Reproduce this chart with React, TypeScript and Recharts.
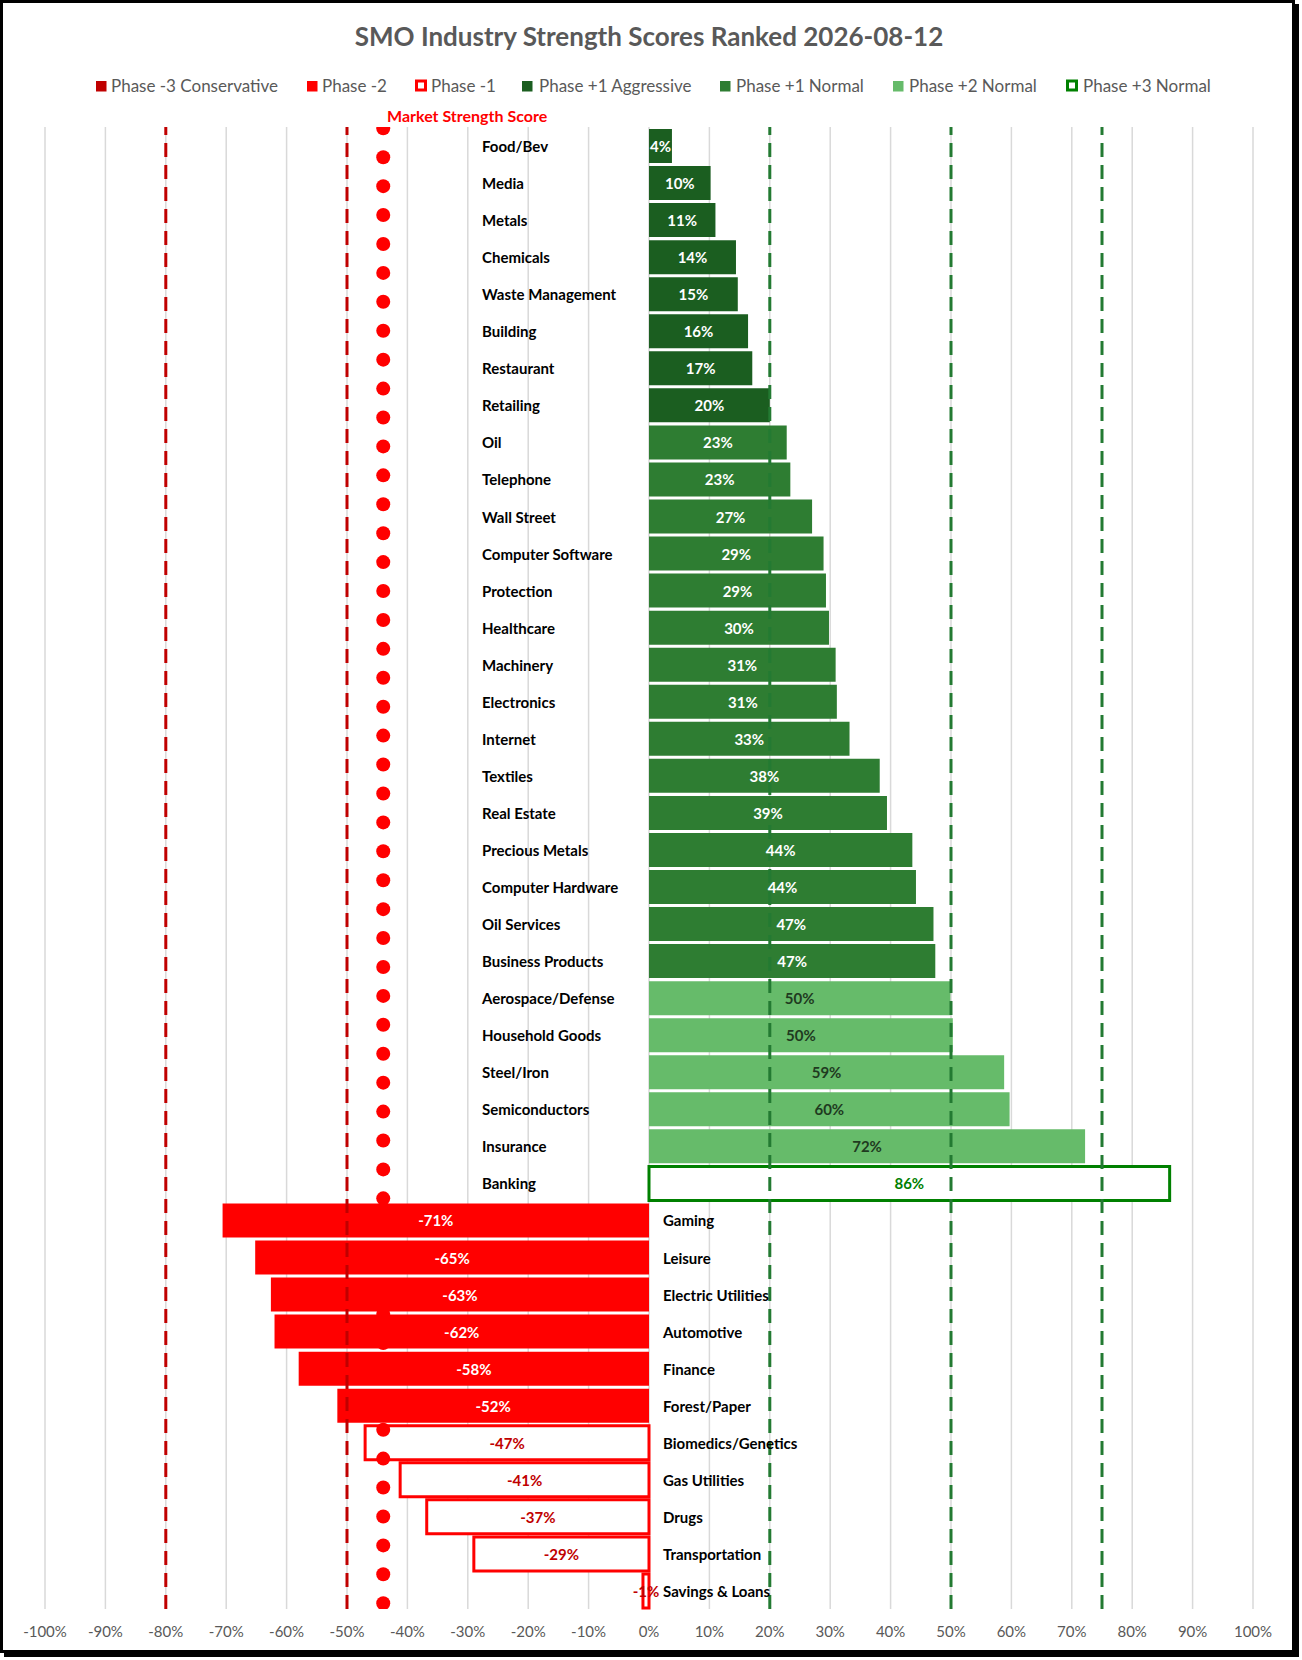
import React from 'react';
import {
  ComposedChart,
  ScatterChart,
  Scatter,
  Bar,
  Cell,
  XAxis,
  YAxis,
  CartesianGrid,
  ReferenceLine,
  LabelList,
} from 'recharts';

// ---------------- DATA ----------------
const chartTitle = 'SMO Industry Strength Scores Ranked 2026-08-12';

const categories = [
  'Food/Bev', 'Media', 'Metals', 'Chemicals', 'Waste Management', 'Building', 'Restaurant', 'Retailing',
  'Oil', 'Telephone', 'Wall Street', 'Computer Software', 'Protection', 'Healthcare', 'Machinery',
  'Electronics', 'Internet', 'Textiles', 'Real Estate', 'Precious Metals', 'Computer Hardware',
  'Oil Services', 'Business Products', 'Aerospace/Defense', 'Household Goods', 'Steel/Iron',
  'Semiconductors', 'Insurance', 'Banking', 'Gaming', 'Leisure', 'Electric Utilities', 'Automotive',
  'Finance', 'Forest/Paper', 'Biomedics/Genetics', 'Gas Utilities', 'Drugs', 'Transportation',
  'Savings & Loans',
];

const scores = [
  3.8, 10.2, 11.0, 14.4, 14.7, 16.4, 17.1, 20.0,
  22.8, 23.4, 27.0, 28.9, 29.3, 29.8, 30.9, 31.1, 33.2, 38.2, 39.4, 43.6, 44.2, 47.1, 47.4,
  49.9, 50.3, 58.8, 59.7, 72.2,
  86.2,
  -70.6, -65.2, -62.6, -62.0, -58.0, -51.6,
  -47.0, -41.2, -36.8, -29.0, -1.0,
];

const phases = [
  'p1a', 'p1a', 'p1a', 'p1a', 'p1a', 'p1a', 'p1a', 'p1a',
  'p1n', 'p1n', 'p1n', 'p1n', 'p1n', 'p1n', 'p1n', 'p1n', 'p1n', 'p1n', 'p1n', 'p1n', 'p1n', 'p1n', 'p1n',
  'p2', 'p2', 'p2', 'p2', 'p2',
  'p3',
  'm2', 'm2', 'm2', 'm2', 'm2', 'm2',
  'm1', 'm1', 'm1', 'm1', 'm1',
];

const legendKeys = ['m3', 'm2', 'm1', 'p1a', 'p1n', 'p2', 'p3'];
const legendNames = [
  'Phase -3 Conservative', 'Phase -2', 'Phase -1', 'Phase +1 Aggressive',
  'Phase +1 Normal', 'Phase +2 Normal', 'Phase +3 Normal',
];

const xTicks = [-100, -90, -80, -70, -60, -50, -40, -30, -20, -10, 0, 10, 20, 30, 40, 50, 60, 70, 80, 90, 100];

const marketStrengthScore = -44;
const marketDotLevels = [
  0, 1, 2, 3, 4, 5, 6, 7, 8, 9, 10, 11, 12, 13, 14, 15, 16, 17, 18, 19, 20, 21, 22, 23, 24, 25,
  26, 27, 28, 29, 30, 31, 32, 33, 34, 35, 36, 37, 38, 39, 40, 41, 42, 43, 44, 45, 46, 47, 48, 49, 50, 51,
];

const redThresholds = [-80, -50];
const greenThresholds = [20, 50, 75];

// ---------------- STYLES ----------------
const FONT = 'Lato, "Open Sans", "Noto Sans", sans-serif';
const PHASE_STYLE: Record<string, { fill: string; stroke: string; sw: number; label: string; hollow: boolean }> = {
  m3: { fill: '#C00000', stroke: 'none', sw: 0, label: '#FFFFFF', hollow: false },
  m2: { fill: '#FF0000', stroke: 'none', sw: 0, label: '#FFFFFF', hollow: false },
  m1: { fill: '#FFFFFF', stroke: '#FF0000', sw: 3, label: '#C00000', hollow: true },
  p1a: { fill: '#1B5E20', stroke: 'none', sw: 0, label: '#FFFFFF', hollow: false },
  p1n: { fill: '#2E7D32', stroke: 'none', sw: 0, label: '#FFFFFF', hollow: false },
  p2: { fill: '#66BB6A', stroke: 'none', sw: 0, label: '#1F3A1F', hollow: false },
  p3: { fill: '#FFFFFF', stroke: '#008000', sw: 3, label: '#008000', hollow: true },
};

const legendMarkerX = [96, 307, 415, 522, 720, 893, 1066];
const legendTextX = [111, 322, 431, 539, 736, 909, 1083];

const MARGIN = { top: 127, right: 49, bottom: 21, left: 45 };
const X_AXIS_H = 30;

const rows = categories.map((name, i) => ({ name, value: scores[i], phase: phases[i] }));
const marketDots = marketDotLevels.map((lv) => ({ x: marketStrengthScore, y: lv }));

function getBox(props: any) {
  const vb = props.viewBox || {};
  const x = props.x ?? vb.x;
  const y = props.y ?? vb.y;
  const width = props.width ?? vb.width;
  const height = props.height ?? vb.height;
  return { x: Number(x), y: Number(y), width: Number(width), height: Number(height) };
}

const ValueLabel = (props: any) => {
  const { x, y, width, height } = getBox(props);
  const v = Number(props.value);
  const idx = scores.indexOf(v);
  const ph = PHASE_STYLE[phases[idx]] || PHASE_STYLE.p1n;
  return (
    <text
      x={x + width / 2}
      y={y + height / 2}
      textAnchor="middle"
      dominantBaseline="central"
      fill={ph.label}
      fontFamily={FONT}
      fontWeight={700}
      fontSize={15}
    >
      {`${Math.round(v)}%`}
    </text>
  );
};

const NameLabel = (props: any) => {
  const { x, y, width, height } = getBox(props);
  const name = String(props.value);
  const idx = categories.indexOf(name);
  const v = scores[idx];
  const left = Math.min(x, x + width);
  const right = Math.max(x, x + width);
  const positive = v >= 0;
  const tx = positive ? left - 167 : right + 14;
  return (
    <text
      x={tx}
      y={y + height / 2}
      textAnchor="start"
      dominantBaseline="central"
      fill="#000000"
      fontFamily={FONT}
      fontWeight={700}
      fontSize={15}
    >
      {name}
    </text>
  );
};

const MarketDot = (props: any) => (
  <circle cx={props.cx} cy={props.cy} r={7} fill="#FF0000" stroke="none" />
);

export default function App() {
  return (
    <div style={{ position: 'absolute', left: 0, top: 0, width: 1302, height: 1660, background: '#ffffff' }}>
      <div
        style={{
          position: 'absolute',
          left: 0,
          top: 0,
          width: 1295,
          height: 1653,
          boxSizing: 'border-box',
          border: '3px solid #000',
          boxShadow: '4px 4px 0 #000',
        }}
      />
      <div style={{ position: 'absolute', left: 0, top: 0 }}>
        <ComposedChart width={1302} height={1660} layout="vertical" data={rows} margin={MARGIN}>
          <CartesianGrid horizontal={false} stroke="#D9D9D9" strokeWidth={1.5} />
          <XAxis
            type="number"
            domain={[-100, 100]}
            ticks={xTicks}
            interval={0}
            height={X_AXIS_H}
            tickFormatter={(v: number) => `${v}%`}
            axisLine={false}
            tickLine={false}
            tickMargin={11}
            tick={{ fill: '#595959', fontSize: 15, fontFamily: FONT }}
          />
          <YAxis type="category" dataKey="name" hide />
          <Bar dataKey="value" barSize={34} isAnimationActive={false}>
            {rows.map((r, i) => {
              const s = PHASE_STYLE[r.phase];
              return <Cell key={i} fill={s.fill} stroke={s.stroke} strokeWidth={s.sw} />;
            })}
            <LabelList dataKey="value" content={ValueLabel} />
            <LabelList dataKey="name" content={NameLabel} />
          </Bar>
          {redThresholds.map((t) => (
            <ReferenceLine key={`r${t}`} x={t} stroke="#C00000" strokeWidth={3} strokeDasharray="14 8" />
          ))}
          {greenThresholds.map((t) => (
            <ReferenceLine key={`g${t}`} x={t} stroke="#237A32" strokeWidth={3} strokeDasharray="14 8" />
          ))}
        </ComposedChart>
      </div>
      <div style={{ position: 'absolute', left: 0, top: 0, pointerEvents: 'none' }}>
        <ScatterChart
          width={1302}
          height={1660}
          margin={{ top: MARGIN.top, right: MARGIN.right, left: MARGIN.left, bottom: MARGIN.bottom + X_AXIS_H }}
        >
          <XAxis type="number" dataKey="x" domain={[-100, 100]} hide allowDataOverflow />
          <YAxis type="number" dataKey="y" domain={[-0.045, 51.2]} hide reversed allowDataOverflow />
          <Scatter data={marketDots} shape={MarketDot} isAnimationActive={false} />
        </ScatterChart>
      </div>
      <svg
        width={1302}
        height={140}
        style={{ position: 'absolute', left: 0, top: 0, pointerEvents: 'none' }}
      >
        <text x={649} y={46} textAnchor="middle" fill="#595959" fontFamily={FONT} fontWeight={700} fontSize={26}>
          {chartTitle}
        </text>
        {legendKeys.map((k, i) => {
          const s = PHASE_STYLE[k];
          return (
            <g key={k}>
              {s.hollow ? (
                <rect x={legendMarkerX[i] + 1.5} y={81} width={9} height={9} fill="#fff" stroke={s.stroke} strokeWidth={3} />
              ) : (
                <rect x={legendMarkerX[i]} y={81} width={10.5} height={10.5} fill={s.fill} />
              )}
              <text x={legendTextX[i]} y={92} fill="#595959" fontFamily={FONT} fontSize={17}>
                {legendNames[i]}
              </text>
            </g>
          );
        })}
        <text x={387} y={122} fill="#FF0000" fontFamily={FONT} fontWeight={700} fontSize={16}>
          Market Strength Score
        </text>
      </svg>
    </div>
  );
}
